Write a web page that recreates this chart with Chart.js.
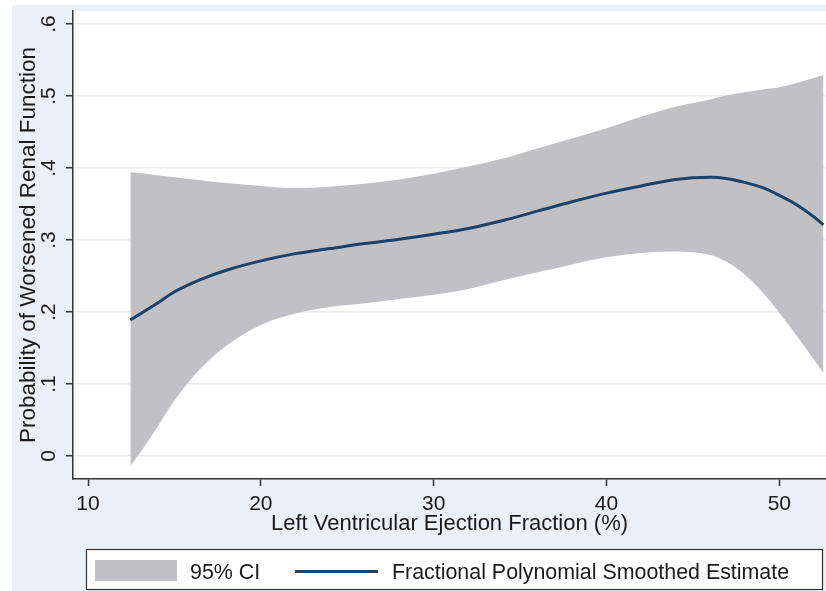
<!DOCTYPE html>
<html>
<head>
<meta charset="utf-8">
<script src="https://cdn.jsdelivr.net/npm/chart.js@4/dist/chart.umd.min.js"></script>
<style>
  html, body { margin: 0; padding: 0; background: #ffffff; }
  #wrap { width: 826px; height: 591px; }
</style>
</head>
<body>
<div id="wrap"><canvas id="c" width="826" height="591"></canvas></div>
<script>
// ---- data ----
const xValues  = [12.45, 13, 14, 15, 16.5, 18, 20, 22, 24, 26, 28, 30, 32, 34, 36, 38, 40, 42, 44, 46, 47, 48, 49, 50, 51, 52, 52.55];
const estimate = [0.189, 0.197, 0.212, 0.228, 0.245, 0.258, 0.271, 0.281, 0.288, 0.295, 0.301, 0.308, 0.316, 0.327, 0.340, 0.353, 0.365, 0.375, 0.384, 0.387, 0.385, 0.380, 0.373, 0.362, 0.349, 0.332, 0.321];
const ciUpper  = [0.394, 0.393, 0.390, 0.387, 0.383, 0.379, 0.375, 0.372, 0.374, 0.378, 0.384, 0.392, 0.402, 0.413, 0.427, 0.441, 0.455, 0.471, 0.485, 0.495, 0.501, 0.505, 0.509, 0.512, 0.518, 0.525, 0.529];
const ciLower  = [-0.014, 0.004, 0.040, 0.077, 0.121, 0.153, 0.182, 0.198, 0.207, 0.212, 0.218, 0.224, 0.232, 0.244, 0.255, 0.266, 0.276, 0.282, 0.284, 0.279, 0.269, 0.252, 0.228, 0.199, 0.167, 0.134, 0.115];
const xTickValues = [10, 20, 30, 40, 50];
const yTickValues = [0, 0.1, 0.2, 0.3, 0.4, 0.5, 0.6];
const xTitle = 'Left Ventricular Ejection Fraction (%)';
const yTitle = 'Probability of Worsened Renal Function';
const legendLabels = ['95% CI', 'Fractional Polynomial Smoothed Estimate'];

const FONT = '"Liberation Sans", Arial, Helvetica, sans-serif';
const BAND = 'rgb(193,192,197)';
const LINE = '#1a426b';
const OUTER = '#eaf0f7';
const TEXT = '#1a1a1a';

const pts = arr => xValues.map((x, i) => ({ x: x, y: arr[i] }));
const fmtY = v => { const r = Math.round(v * 10) / 10; return r === 0 ? '0' : r.toFixed(1).replace(/^0/, ''); };

const bgPlugin = {
  id: 'bg',
  beforeDraw(chart) {
    const ctx = chart.ctx, a = chart.chartArea;
    ctx.save();
    ctx.fillStyle = '#ffffff';
    ctx.fillRect(0, 0, chart.width, chart.height);
    ctx.fillStyle = OUTER;
    ctx.fillRect(12, 5, chart.width - 12, chart.height - 5);
    ctx.fillStyle = '#ffffff';
    ctx.fillRect(a.left, a.top, a.right - a.left, a.bottom - a.top);
    ctx.restore();
  }
};

const yLabelPlugin = {
  id: 'ylabels',
  afterDraw(chart) {
    const ctx = chart.ctx, ys = chart.scales.y;
    ctx.save();
    ctx.fillStyle = TEXT;
    ctx.font = '21px ' + FONT;
    ctx.textAlign = 'center';
    ctx.textBaseline = 'alphabetic';
    ys.ticks.forEach(t => {
      const py = ys.getPixelForValue(t.value);
      ctx.save();
      ctx.translate(55, py);
      ctx.rotate(-Math.PI / 2);
      ctx.fillText(fmtY(t.value), 0, 0);
      ctx.restore();
    });
    ctx.restore();
  }
};

const legendPlugin = {
  id: 'boxlegend',
  afterDraw(chart) {
    const ctx = chart.ctx;
    ctx.save();
    ctx.fillStyle = '#ffffff';
    ctx.fillRect(86, 549, 737, 41);
    ctx.strokeStyle = '#333333';
    ctx.lineWidth = 1.2;
    ctx.strokeRect(86.5, 549.5, 736, 40);
    ctx.fillStyle = BAND;
    ctx.fillRect(95, 560, 82, 21);
    ctx.strokeStyle = LINE;
    ctx.lineWidth = 3;
    ctx.beginPath();
    ctx.moveTo(295, 571.5);
    ctx.lineTo(378, 571.5);
    ctx.stroke();
    ctx.fillStyle = TEXT;
    ctx.font = '21.4px ' + FONT;
    ctx.textAlign = 'left';
    ctx.textBaseline = 'alphabetic';
    ctx.fillText(legendLabels[0], 190, 579);
    ctx.fillText(legendLabels[1], 392, 579);
    ctx.restore();
  }
};

new Chart(document.getElementById('c'), {
  type: 'line',
  data: {
    datasets: [
      { label: 'lower', order: 2, data: pts(ciLower), borderWidth: 0, pointRadius: 0, fill: false, cubicInterpolationMode: 'monotone', borderColor: 'rgba(0,0,0,0)' },
      { label: legendLabels[0], order: 1, data: pts(ciUpper), borderWidth: 0, pointRadius: 0, fill: '-1', backgroundColor: BAND, cubicInterpolationMode: 'monotone', borderColor: 'rgba(0,0,0,0)' },
      { label: legendLabels[1], order: 0, data: pts(estimate), borderWidth: 3, borderColor: LINE, pointRadius: 0, fill: false, cubicInterpolationMode: 'monotone' }
    ]
  },
  options: {
    responsive: false,
    animation: false,
    devicePixelRatio: 1,
    layout: { padding: { left: 12, top: 11, right: 0, bottom: 54 } },
    plugins: { legend: { display: false }, tooltip: { enabled: false } },
    scales: {
      x: {
        type: 'linear',
        min: 9.13, max: 52.7,
        afterBuildTicks: s => { s.ticks = xTickValues.map(v => ({ value: v })); },
        afterFit: s => { s.height = 58; },
        ticks: { color: TEXT, font: { family: FONT, size: 21 }, padding: 6, maxRotation: 0, callback: v => String(v) },
        grid: { drawOnChartArea: false, drawTicks: true, tickLength: 7, tickColor: '#333333', tickWidth: 1.5 },
        border: { color: '#333333', width: 1.5 },
        title: { display: true, text: xTitle, color: TEXT, font: { family: FONT, size: 22 }, padding: { top: 0, bottom: 0 } }
      },
      y: {
        type: 'linear',
        min: -0.032, max: 0.618,
        afterBuildTicks: s => { s.ticks = yTickValues.map(v => ({ value: v })); },
        afterFit: s => { s.width = 61; },
        ticks: { display: false },
        grid: { color: '#e8ebef', lineWidth: 1.5, drawTicks: true, tickLength: 7, tickColor: '#333333', tickWidth: 1.5 },
        border: { color: '#333333', width: 1.5 },
        title: { display: true, text: yTitle, color: TEXT, font: { family: FONT, size: 22.5 }, padding: { top: 3, bottom: 0 } }
      }
    }
  },
  plugins: [bgPlugin, yLabelPlugin, legendPlugin]
});
</script>
</body>
</html>
